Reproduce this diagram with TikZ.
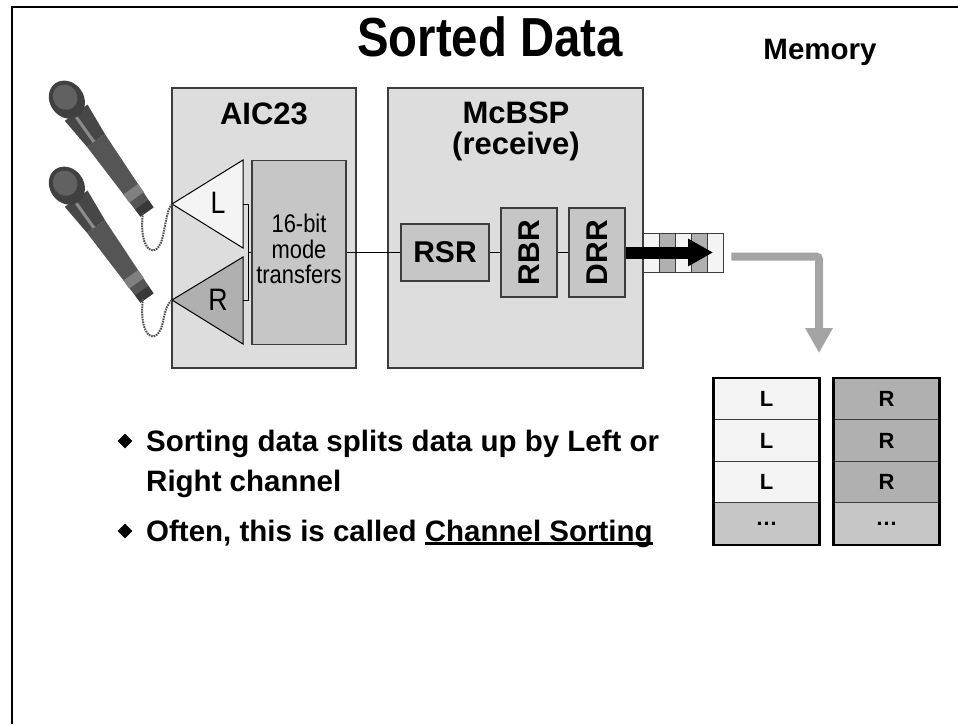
\documentclass[tikz,border=0pt]{standalone}
\usepackage{fontspec}
\usepackage{graphicx}
\setmainfont{Liberation Sans}
\usetikzlibrary{arrows.meta,shapes.geometric}

\definecolor{boxgray}{HTML}{DDDDDD}
\definecolor{midgray}{HTML}{C6C6C6}
\definecolor{darkgray}{HTML}{B0B0B0}
\definecolor{paper}{HTML}{F4F4F4}
\definecolor{edge}{HTML}{3C3C3C}
\definecolor{micbody}{HTML}{555555}
\definecolor{arrowgray}{HTML}{A4A4A4}

\newcommand{\fs}[2][]{\fontsize{#2}{#2}\selectfont}
\newcommand{\ulined}[1]{\setbox0\hbox{#1}\rlap{\rule[-3.5pt]{\wd0}{2.4pt}}\box0}
\newcommand{\narrow}[1]{\scalebox{0.86}[1]{#1}}

\tikzset{
  chip/.style={draw=edge, line width=1.2pt, fill=boxgray, inner sep=0pt},
  reg/.style={draw=edge, line width=1.2pt, fill=midgray, inner sep=0pt, font=\fs{30}\bfseries},
  cell/.style={draw=edge, line width=0.8pt, minimum width=16pt, minimum height=39pt, inner sep=0pt},
  mem/.style={draw=edge, line width=1pt, minimum width=105pt, minimum height=41.5pt, inner sep=0pt, font=\fs{22}\bfseries},
  wire/.style={line width=0.9pt},
  cord/.style={dash pattern=on 1.6pt off 0.9pt, line width=2pt, color=black!68},
  bullet/.style={diamond, fill=black, inner sep=0pt, minimum size=15pt},
  point/.style={font=\fs{29.5}\bfseries, inner sep=0pt, anchor=base west},
}

\begin{document}
\begin{tikzpicture}[x=1pt, y=-1pt]
  \useasboundingbox (0,0) rectangle (958,724);
  \fill[white] (0,0) rectangle (958,724);
  \draw[line width=2.5pt] (12,724) -- (12,7) -- (958,7);

  \node (TITLE) at (490,37) {\narrow{\fs{55}\bfseries Sorted Data}};
  \node (MEMTITLE) at (820,52) {\fs{29.5}\bfseries Memory};

  % microphones
  \foreach \mx/\my in {147/212, 147/298} {
    \begin{scope}[shift={(\mx,\my)}, rotate=125.5]
      \fill[micbody] (0,-8) -- (88,-11) -- (88,11) -- (0,8) -- cycle;
      \fill[black!78] (0,-8) rectangle (9,8);
      \fill[black!50] (18,-9) rectangle (28,9);
      \fill[black!72] (88,-11) -- (122,-14) -- (122,14) -- (88,11) -- cycle;
      \fill[black!45] (88,-4) rectangle (122,-1);
      \fill[black!75] (138,0) ellipse [x radius=20, y radius=17];
      \fill[black!62] (141,0) ellipse [x radius=13, y radius=12];
    \end{scope}
  }

  \node[chip, minimum width=184pt, minimum height=280pt] (AIC) at (264,228) {};
  \node[font=\fs{31}\bfseries, anchor=base] (AICLBL) at (264,124) {AIC23};
  \node[chip, minimum width=255pt, minimum height=280pt] (MCB) at (515.5,228) {};
  \node[font=\fontsize{31}{31}\selectfont\bfseries, align=center] (MCBLBL) at (516,131.5) {McBSP\\(receive)};

  \coordinate (LTIP) at (172,204);
  \coordinate (RTIP) at (172,300);
  \draw[line width=1pt, fill=paper] (LTIP) -- (243,160) -- (243,248) -- cycle;
  \draw[line width=1pt, fill=darkgray] (RTIP) -- (243,257) -- (243,344) -- cycle;
  \node[font=\fs{31}] (LIN) at (218,203) {\narrow{L}};
  \node[font=\fs{31}] (RIN) at (218,300) {\narrow{R}};

  \coordinate (MICL) at (143,213);
  \coordinate (MICR) at (143,299);
  \draw[cord] (MICL) .. controls (138,252) and (157,262) .. (163,236) .. controls (166,220) and (168,208) .. (LTIP);
  \draw[cord] (MICR) .. controls (138,338) and (157,348) .. (163,322) .. controls (166,306) and (168,304) .. (RTIP);

  \node[reg, font=\fontsize{25.5}{24.5}\selectfont, minimum width=94pt, minimum height=184pt] (MODE) at (299,252.5)
    {\narrow{\begin{tabular}{@{}c@{}}16-bit\\mode\\transfers\end{tabular}}};
  \draw[wire] (243,204) -| (248,300) -- (243,300);
  \draw[wire] (248,252.5) -- (MODE.west);

  \node[reg, minimum width=88pt, minimum height=57pt] (RSR) at (445,252.5) {RSR};
  \node[reg, minimum width=56pt, minimum height=89pt] (RBR) at (529,252.5) {\rotatebox{90}{RBR}};
  \node[reg, minimum width=56pt, minimum height=89pt] (DRR) at (597,252.5) {\rotatebox{90}{DRR}};
  \draw[wire] (MODE.east) -- (RSR.west);
  \draw[wire] (RSR.east) -- (RBR.west);
  \draw[wire] (RBR.east) -- (DRR.west);

  \foreach \i/\c in {1/paper, 2/darkgray, 3/paper, 4/darkgray, 5/paper}
    \node[cell, fill=\c] (BUF\i) at (635+16*\i,252.5) {};
  \draw[line width=12pt, -{Triangle[length=25pt, width=26pt]}] (DRR.east) -- (713,252.5);

  \coordinate (DROP) at (819,353);
  \draw[line width=8pt, arrowgray, rounded corners=3pt, -{Triangle[length=25pt, width=26pt]}]
    ([xshift=8pt, yshift=-4pt]BUF5.east) -| (DROP);

  \foreach \r/\yy in {1/399, 2/440.5, 3/482} {
    \node[mem, fill=paper] (ML\r) at (766.5,\yy) {L};
    \node[mem, fill=darkgray] (MR\r) at (886.5,\yy) {R};
  }
  \node[mem, fill=midgray] (ML4) at (766.5,523.5) {…};
  \node[mem, fill=midgray] (MR4) at (886.5,523.5) {…};
  \draw[line width=2.5pt] (ML1.north west) rectangle (ML4.south east);
  \draw[line width=2.5pt] (MR1.north west) rectangle (MR4.south east);

  \node[bullet] (DOT1) at (125,441) {};
  \node[point] (PT1) at (146,451) {Sorting data splits data up by Left or};
  \node[point] (PT1B) at (146,491) {Right channel};
  \node[bullet] (DOT2) at (125,531) {};
  \node[point] (PT2) at (146,541) {Often, this is called \ulined{Channel Sorting}};
\end{tikzpicture}
\end{document}
